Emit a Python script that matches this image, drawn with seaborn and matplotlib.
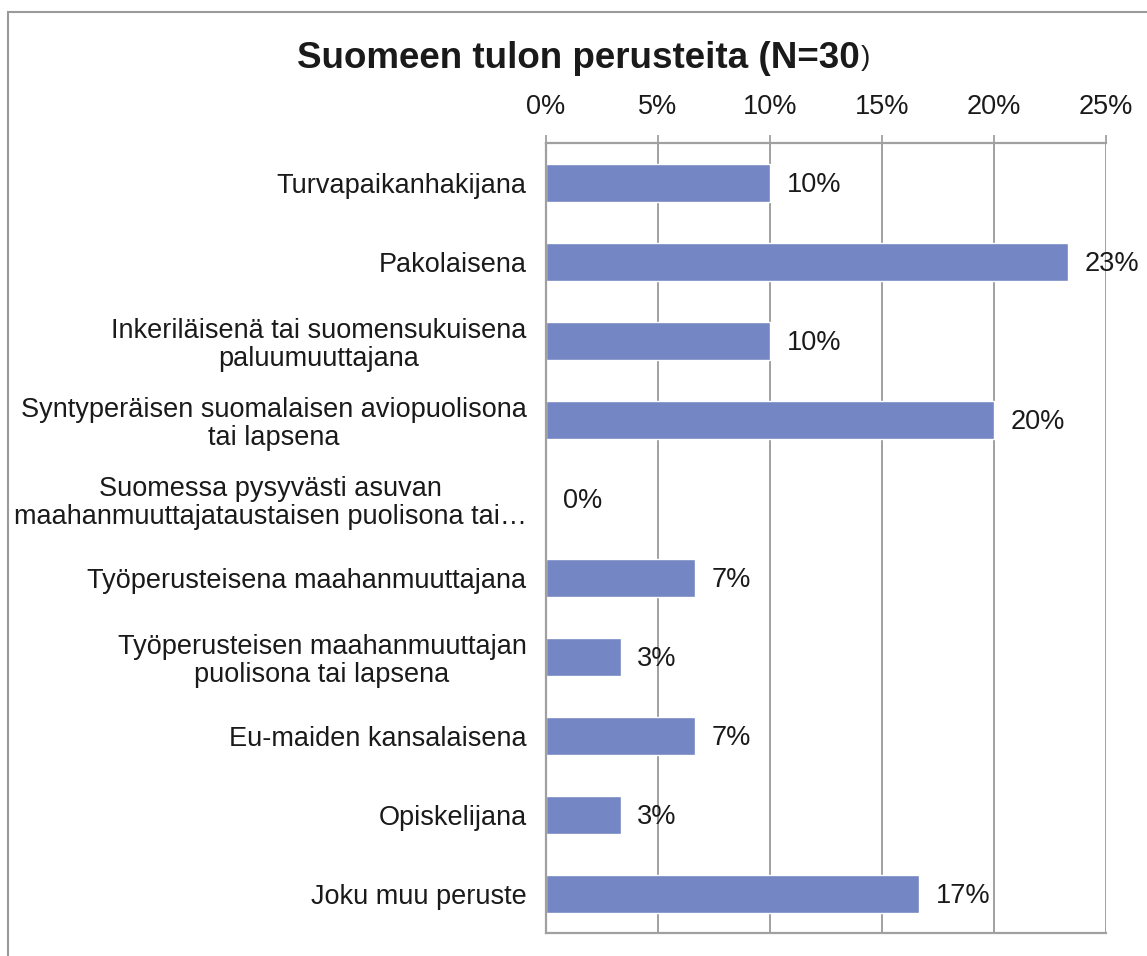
import numpy as np
import pandas as pd
import seaborn as sns
import matplotlib.pyplot as plt
from matplotlib.patches import Rectangle

# --- Data ---
categories = [
    "Turvapaikanhakijana",
    "Pakolaisena",
    "Inkeriläisenä tai suomensukuisena\npaluumuuttajana",
    "Syntyperäisen suomalaisen aviopuolisona\ntai lapsena",
    "Suomessa pysyvästi asuvan\nmaahanmuuttajataustaisen puolisona tai…",
    "Työperusteisena maahanmuuttajana",
    "Työperusteisen maahanmuuttajan\npuolisona tai lapsena",
    "Eu-maiden kansalaisena",
    "Opiskelijana",
    "Joku muu peruste",
]
shares = [10.0, 23.33, 10.0, 20.0, 0.0, 6.67, 3.33, 6.67, 3.33, 16.67]
xticks = [0, 5, 10, 15, 20, 25]

df = pd.DataFrame({"Peruste": categories, "Osuus": shares})

sns.set_theme(style="white")
plt.rcParams['font.family'] = ['Liberation Sans', 'DejaVu Sans']

fig = plt.figure(figsize=(11.47, 9.56), dpi=100)
ax = fig.add_axes([0.476, 0.024, 0.488, 0.826])

sns.barplot(ax=ax, data=df, x="Osuus", y="Peruste", color="#7486C3",
            saturation=1, width=0.48, orient="h", zorder=2)

grid_col = "#A0A0A0"
txt_col = "#1a1a1a"
fs = 19.5

ax.set_xlim(0, 25)
ax.set_ylim(len(categories) - 0.5, -0.5)
ax.set_xticks(xticks)
ax.set_xticklabels([f"{t}%" for t in xticks], fontsize=fs, color=txt_col)
ax.xaxis.tick_top()
ax.tick_params(axis="x", length=6, width=1.3, color=grid_col, pad=11)
for t in xticks[1:]:
    ax.axvline(t, color=grid_col, lw=1.4, zorder=0)

# y tick labels at category centres, tick marks at boundaries
ax.set_yticks(range(len(categories)))
ax.set_yticklabels(categories, fontsize=fs, color=txt_col,
                   multialignment="center", linespacing=1.1)
ax.tick_params(axis="y", length=0, pad=14)
ax.set_yticks(np.arange(-0.5, len(categories), 1), minor=True)
ax.tick_params(axis="y", which="minor", length=11, color=grid_col, width=1.3)
ax.set_xlabel("")
ax.set_ylabel("")

ax.spines["right"].set_visible(False)
for side in ["left", "bottom", "top"]:
    ax.spines[side].set_color(grid_col)
    ax.spines[side].set_linewidth(1.6)

# value labels
for i, v in enumerate(shares):
    ax.text(v + 0.75, i + 0.03, f"{v:.0f}%", va="center", ha="left", fontsize=fs, color=txt_col)

title = fig.text(0.504, 0.939, "Suomeen tulon perusteita (N=30", ha="center", va="center",
                 fontsize=26.5, fontweight="bold", color=txt_col)
ax.annotate(")", xy=(1, 0.5), xycoords=title, xytext=(1, 0), textcoords="offset points",
            ha="left", va="center", fontsize=20, color=txt_col)

fig.patches.append(Rectangle((0.007, -0.1), 1.2, 1.087, transform=fig.transFigure,
                             fill=False, edgecolor="#9a9a9a", lw=1.5))

plt.savefig("out.png", dpi=100)
